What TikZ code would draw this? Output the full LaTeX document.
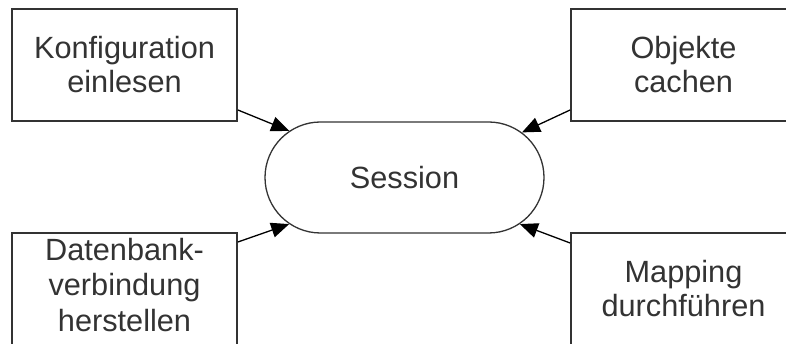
\documentclass[tikz,border=0pt]{standalone}
\usepackage{fontspec}
\setmainfont{Liberation Sans}
\usetikzlibrary{arrows.meta,shapes.misc}

\tikzset{
  task/.style={draw=black!80, line width=1.8pt, fill=white, minimum width=225pt,
    minimum height=112pt, inner sep=0pt, align=center, text=black!80},
  hub/.style={rounded rectangle, draw=black!80, line width=1.3pt, minimum width=279pt,
    minimum height=111pt, inner sep=0pt, text=black!80},
  feed/.style={line width=1.3pt, -{Triangle[length=18pt,width=15pt]}}
}

\begin{document}
\begin{tikzpicture}[x=1pt, y=1pt, font=\fontsize{30.7}{34}\selectfont]
\useasboundingbox (0,0) rectangle (786,344);
\clip (0,0) rectangle (786,344);

\node[hub] (session) at (404.5,166.5) {Session};

\node[task] (konfig) at (124.5,279) {Konfiguration\\einlesen};
\node[task] (objekte) at (683.5,279) {Objekte\\cachen};
\node[task, text depth=9pt, font=\fontsize{30.7}{35.5}\selectfont] (datenbank) at (124.5,55)
  {Datenbank-\\verbindung\\herstellen};
\node[task] (mapping) at (683.5,55) {Mapping\\durchführen};

\draw[feed] ([yshift=-45pt]konfig.east) -- (session.158.8);
\draw[feed] ([yshift=-45pt]objekte.west) -- (session.21);
\draw[feed] ([yshift=47pt]datenbank.east) -- (session.202);
\draw[feed] ([yshift=46pt]mapping.west) -- (session.338);
\end{tikzpicture}
\end{document}
